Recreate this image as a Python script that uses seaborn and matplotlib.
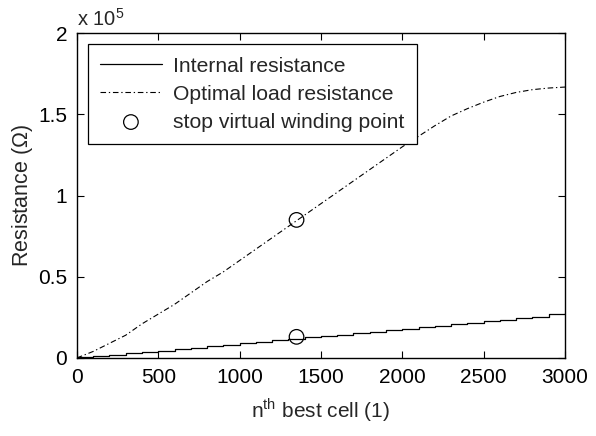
import matplotlib
matplotlib.use("Agg")
import matplotlib.pyplot as plt
import seaborn as sns
import pandas as pd

# data (resistance in units of 1e5 ohm)
cells = [0, 100, 200, 300, 400, 500, 600, 700, 800, 900, 1000, 1100, 1200, 1300, 1400,
         1500, 1600, 1700, 1800, 1900, 2000, 2100, 2200, 2300, 2400, 2500, 2600, 2700,
         2800, 2900, 3000]
internal = [0.003, 0.01, 0.02, 0.028, 0.036, 0.045, 0.054, 0.063, 0.072, 0.081, 0.09, 0.099,
            0.108, 0.117, 0.126, 0.135, 0.144, 0.153, 0.162, 0.171, 0.18, 0.189, 0.198,
            0.207, 0.216, 0.225, 0.234, 0.243, 0.252, 0.27, 0.277]
optimal = [0.0, 0.04, 0.09, 0.14, 0.21, 0.27, 0.33, 0.40, 0.47, 0.53, 0.60, 0.67, 0.74,
           0.81, 0.88, 0.95, 1.02, 1.09, 1.16, 1.23, 1.30, 1.365, 1.43, 1.49, 1.535, 1.575,
           1.61, 1.635, 1.652, 1.662, 1.668]
stop_x = [1350, 1350]
stop_y = [0.85, 0.13]

sns.set_style("ticks")
plt.rcParams['font.family'] = ['Liberation Sans', 'DejaVu Sans']
plt.rcParams['mathtext.fontset'] = 'custom'
plt.rcParams['mathtext.rm'] = 'Liberation Sans'

df = pd.DataFrame({"cell": cells, "internal": internal, "optimal": optimal})

fig = plt.figure(figsize=(5.96, 4.36), dpi=100)
ax = fig.add_axes([0.129, 0.179, 0.819, 0.745])

sns.lineplot(data=df, x="cell", y="internal", ax=ax, color="black", linewidth=0.9,
             drawstyle="steps-post", label="Internal resistance")
sns.lineplot(data=df, x="cell", y="optimal", ax=ax, color="black", linewidth=0.8,
             linestyle=(0, (5, 2.5, 1.2, 2.5)), label="Optimal load resistance")
sns.scatterplot(x=stop_x, y=stop_y, ax=ax, marker="o", s=110, facecolor="none",
                edgecolor="black", linewidth=0.9, label="stop virtual winding point")

ax.set_xlim(0, 3000)
ax.set_ylim(0, 2)
ax.set_xticks([0, 500, 1000, 1500, 2000, 2500, 3000])
ax.set_yticks([0, 0.5, 1, 1.5, 2])
ax.set_yticklabels(["0", "0.5", "1", "1.5", "2"])
ax.tick_params(direction="in", length=5, width=0.8, top=True, right=True,
               labelsize=15, colors="black", pad=7)
for s in ax.spines.values():
    s.set_visible(True)
    s.set_linewidth(1.0)
    s.set_color("black")

ax.set_xlabel(r"n$^{\mathrm{th}}$ best cell (1)", fontsize=15, labelpad=7)
ax.set_ylabel(r"Resistance ($\Omega$)", fontsize=15.5, labelpad=2)
ax.text(0.0, 1.01, r"x 10$^{5}$", transform=ax.transAxes, fontsize=14.5,
        ha="left", va="bottom")

leg = ax.legend(loc="upper left", bbox_to_anchor=(0.022, 0.966), fontsize=15.2,
                frameon=True, fancybox=False, edgecolor="black", framealpha=1,
                handlelength=2.9, handletextpad=0.55, borderpad=0.6, labelspacing=0.42,
                borderaxespad=0)
leg.get_frame().set_linewidth(0.9)

fig.savefig("out.png", dpi=100)
